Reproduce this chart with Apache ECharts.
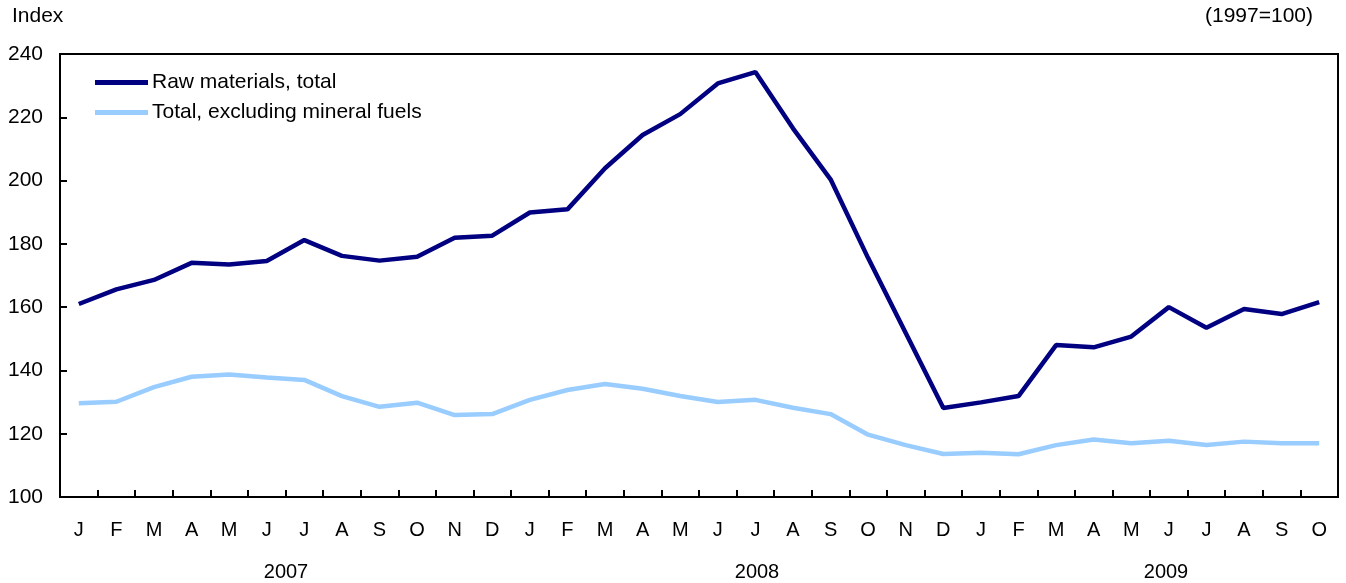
<!DOCTYPE html>
<html>
<head>
<meta charset="utf-8">
<script src="https://cdn.jsdelivr.net/npm/echarts@6/dist/echarts.min.js"></script>
<style>
  html, body { margin: 0; padding: 0; background: #fff; }
  #chart { width: 1346px; height: 583px; }
</style>
</head>
<body>
<div id="chart"></div>
<script>
// month labels, Jan 2007 .. Oct 2009
var months = ['J','F','M','A','M','J','J','A','S','O','N','D',
              'J','F','M','A','M','J','J','A','S','O','N','D',
              'J','F','M','A','M','J','J','A','S','O'];

var rawTotal = [161.0, 165.6, 168.6, 174.0, 173.5, 174.6, 181.2, 176.2, 174.7, 175.9, 181.9, 182.6,
                189.9, 190.9, 203.9, 214.4, 221.0, 230.7, 234.3, 216.5, 200.4, 175.5, 151.8, 128.1,
                129.9, 131.9, 148.0, 147.3, 150.7, 160.0, 153.5, 159.4, 157.8, 161.6];

var exFuels = [129.6, 130.1, 134.7, 138.0, 138.7, 137.8, 137.0, 131.9, 128.5, 129.8, 125.9, 126.2,
               130.7, 133.8, 135.7, 134.2, 131.9, 130.0, 130.7, 128.2, 126.2, 119.7, 116.4, 113.6,
               114.0, 113.5, 116.4, 118.2, 117.0, 117.8, 116.4, 117.5, 117.0, 117.0];

var years = ['2007', '2008', '2009'];
var yTicks = { min: 100, max: 240, interval: 20 };

var fontFamily = '"Liberation Sans", Arial, Helvetica, sans-serif';

var gridBox = { left: 60, right: 8, top: 54, bottom: 86 };
var plotW = 1346 - gridBox.left - gridBox.right;
var plotH = 583 - gridBox.top - gridBox.bottom;

var tickStyle = { color: '#000', width: 2 };

var chart = echarts.init(document.getElementById('chart'), null, { renderer: 'canvas' });

chart.setOption({
    animation: false,
    backgroundColor: '#fff',
    grid: {
        left: gridBox.left,
        right: gridBox.right,
        top: gridBox.top,
        bottom: gridBox.bottom,
        show: true,
        borderColor: '#000',
        borderWidth: 2
    },
    legend: {
        orient: 'vertical',
        left: 90,
        top: 67,
        itemWidth: 53,
        itemHeight: 5,
        itemGap: 9,
        icon: 'rect',
        textStyle: { fontFamily: fontFamily, fontSize: 21, color: '#000', padding: [0, 0, 0, -1] },
        data: ['Raw materials, total', 'Total, excluding mineral fuels']
    },
    xAxis: [{
        type: 'category',
        data: months,
        boundaryGap: true,
        axisLine: { lineStyle: { color: '#000', width: 2 } },
        axisTick: { show: false },
        axisLabel: { margin: 23, fontFamily: fontFamily, fontSize: 20, color: '#000', interval: 0 },
        splitLine: { show: false }
    }, {
        // top-positioned copy moved down onto the bottom line, so its ticks point up into the plot
        type: 'category',
        data: months,
        position: 'top',
        offset: -plotH,
        boundaryGap: true,
        axisLine: { show: false },
        axisTick: { show: true, interval: 0, length: 7, lineStyle: tickStyle },
        axisLabel: { show: false },
        splitLine: { show: false }
    }],
    yAxis: [{
        type: 'value',
        min: yTicks.min,
        max: yTicks.max,
        interval: yTicks.interval,
        axisLine: { show: true, lineStyle: { color: '#000', width: 2 } },
        axisTick: { show: false },
        axisLabel: { margin: 17, fontFamily: fontFamily, fontSize: 21, color: '#000' },
        splitLine: { show: false }
    }, {
        type: 'value',
        position: 'right',
        offset: -plotW,
        min: yTicks.min,
        max: yTicks.max,
        interval: yTicks.interval,
        axisLine: { show: false },
        axisTick: { show: true, length: 7, lineStyle: tickStyle },
        axisLabel: { show: false },
        splitLine: { show: false }
    }],
    graphic: [
        { type: 'text', left: 12, top: 6, style: { text: 'Index', font: '21px ' + fontFamily, fill: '#000' } },
        { type: 'text', right: 33, top: 6, style: { text: '(1997=100)', font: '21px ' + fontFamily, fill: '#000' } },
        { type: 'text', x: 286, y: 572, style: { text: years[0], font: '20px ' + fontFamily, fill: '#000', align: 'center', verticalAlign: 'middle' } },
        { type: 'text', x: 757, y: 572, style: { text: years[1], font: '20px ' + fontFamily, fill: '#000', align: 'center', verticalAlign: 'middle' } },
        { type: 'text', x: 1166, y: 572, style: { text: years[2], font: '20px ' + fontFamily, fill: '#000', align: 'center', verticalAlign: 'middle' } }
    ],
    series: [
        {
            name: 'Raw materials, total',
            type: 'line',
            data: rawTotal,
            showSymbol: false,
            symbol: 'none',
            color: '#000080',
            lineStyle: { color: '#000080', width: 4.5 },
            z: 3
        },
        {
            name: 'Total, excluding mineral fuels',
            type: 'line',
            data: exFuels,
            showSymbol: false,
            symbol: 'none',
            color: '#99ccff',
            lineStyle: { color: '#99ccff', width: 4.5 },
            z: 2
        }
    ]
});
</script>
</body>
</html>
